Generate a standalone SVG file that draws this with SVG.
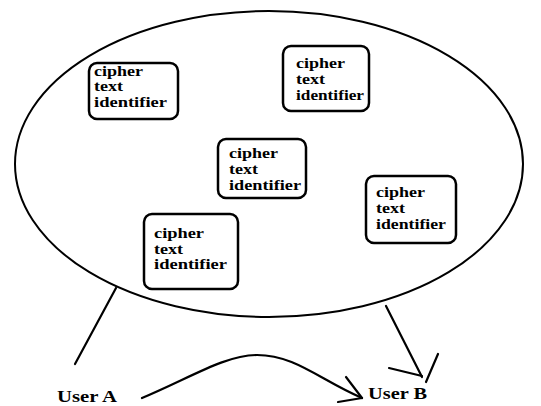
<svg xmlns="http://www.w3.org/2000/svg" width="541" height="406" viewBox="0 0 541 406">
<style>
.box{fill:#fff;stroke:#000;stroke-width:2.5}
.t{font-family:"Liberation Serif","Times New Roman",serif;font-weight:bold;font-size:14.5px;fill:#000}
.u{font-family:"Liberation Serif","Times New Roman",serif;font-weight:bold;font-size:17px;fill:#000}
.ln{fill:none;stroke:#000;stroke-width:2.2;stroke-linecap:round}
</style>
<rect width="541" height="406" fill="#fff"/>
<ellipse cx="269" cy="164" rx="254" ry="153" fill="none" stroke="#000" stroke-width="2"/>
<g id="node1">
<rect class="box" x="89" y="63" width="89" height="56" rx="8"/>
<text class="t"><tspan x="94" y="76" textLength="49" lengthAdjust="spacingAndGlyphs">cipher</tspan><tspan x="94" y="91" textLength="29" lengthAdjust="spacingAndGlyphs">text</tspan><tspan x="94" y="107" textLength="73" lengthAdjust="spacingAndGlyphs">identifier</tspan></text>
</g>
<g id="node2">
<rect class="box" x="283" y="46" width="86" height="65" rx="8"/>
<text class="t"><tspan x="296" y="68" textLength="49" lengthAdjust="spacingAndGlyphs">cipher</tspan><tspan x="296" y="84" textLength="29" lengthAdjust="spacingAndGlyphs">text</tspan><tspan x="296" y="100" textLength="68" lengthAdjust="spacingAndGlyphs">identifier</tspan></text>
</g>
<g id="node3">
<rect class="box" x="218" y="139" width="88" height="59" rx="8"/>
<text class="t"><tspan x="229" y="158" textLength="49" lengthAdjust="spacingAndGlyphs">cipher</tspan><tspan x="229" y="174" textLength="29" lengthAdjust="spacingAndGlyphs">text</tspan><tspan x="229" y="190" textLength="72" lengthAdjust="spacingAndGlyphs">identifier</tspan></text>
</g>
<g id="node4">
<rect class="box" x="366" y="176" width="90" height="67" rx="8"/>
<text class="t"><tspan x="376" y="197" textLength="49" lengthAdjust="spacingAndGlyphs">cipher</tspan><tspan x="376" y="213" textLength="29" lengthAdjust="spacingAndGlyphs">text</tspan><tspan x="376" y="229" textLength="70" lengthAdjust="spacingAndGlyphs">identifier</tspan></text>
</g>
<g id="node5">
<rect class="box" x="144" y="214" width="94" height="75" rx="8"/>
<text class="t"><tspan x="154" y="238" textLength="50" lengthAdjust="spacingAndGlyphs">cipher</tspan><tspan x="154" y="254" textLength="29" lengthAdjust="spacingAndGlyphs">text</tspan><tspan x="154" y="269" textLength="73" lengthAdjust="spacingAndGlyphs">identifier</tspan></text>
</g>
<g id="userA">
<text class="u" x="57" y="402" textLength="60" lengthAdjust="spacingAndGlyphs">User A</text>
</g>
<g id="userB">
<text class="u" x="368" y="399" textLength="59" lengthAdjust="spacingAndGlyphs">User B</text>
</g>
<g id="connectors">
<path class="ln" d="M116,288 L75,364"/>
<path class="ln" d="M386,306 L422,377"/>
<path class="ln" d="M389,368 L422,376"/>
<path class="ln" d="M438,354 L426,382"/>
<path class="ln" d="M142,398 C190,378 225,355 257,355 C295,355 320,380 362,398"/>
<path class="ln" d="M346,377 L362,398"/>
<path class="ln" d="M338,402 L362,398"/>
</g>
</svg>
